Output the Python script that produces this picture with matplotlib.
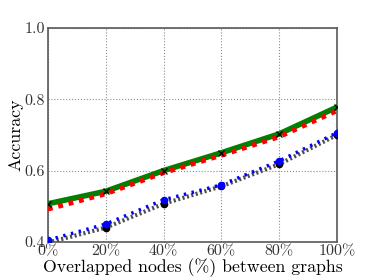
import numpy as np
import matplotlib
matplotlib.use('Agg')
import matplotlib.pyplot as plt

plt.rcParams['font.family'] = 'cmr10'
plt.rcParams['mathtext.fontset'] = 'cm'
plt.rcParams['axes.unicode_minus'] = False

overlap = [0, 20, 40, 60, 80, 100]
xtick_labels = ['0%', '20%', '40%', '60%', '80%', '100%']
green_acc = [0.507, 0.542, 0.600, 0.650, 0.703, 0.778]
red_acc = [0.492, 0.535, 0.594, 0.643, 0.695, 0.768]
blue_acc = [0.405, 0.450, 0.518, 0.560, 0.627, 0.706]
black_acc = [0.398, 0.440, 0.507, 0.556, 0.618, 0.700]

fig = plt.figure(figsize=(3.74, 2.8), dpi=100)
ax = fig.add_axes([0.128, 0.136, 0.773, 0.764])

ax.plot(overlap, green_acc, color='green', lw=4, zorder=3)
ax.plot(overlap, green_acc, ls='none', marker='x', color='black', ms=4.5, mew=0.9, zorder=5)
ax.plot(overlap, red_acc, color='red', lw=3.5, ls=(0, (1, 1.2)), zorder=4)
ax.plot(overlap, black_acc, color='0.3', lw=3, ls=(0, (0.5, 0.6)), marker='o', ms=4.5,
        mfc='black', mec='black', zorder=3)
ax.plot(overlap, blue_acc, color='blue', lw=2.5, ls=(0, (0.7, 1.6)), marker='o', ms=4.5,
        mfc='blue', mec='blue', zorder=4)

ax.set_xlim(0, 100)
ax.set_ylim(0.4, 1.0)
ax.set_xticks(overlap)
ax.set_xticklabels(xtick_labels)
ax.set_yticks([0.4, 0.6, 0.8, 1.0])
ax.set_yticklabels(['0.4', '0.6', '0.8', '1.0'])
ax.tick_params(labelsize=11.5, length=0, pad=2, colors='0.2')
ax.grid(True, ls=':', color='0.55', lw=0.8)
for s in ax.spines.values():
    s.set_color('0.35')
    s.set_linewidth(1.2)
ax.set_xlabel('Overlapped nodes (%) between graphs', fontsize=12.8, labelpad=0)
ax.set_ylabel('Accuracy', fontsize=12.8, labelpad=1)

fig.savefig('out.png', dpi=100)
